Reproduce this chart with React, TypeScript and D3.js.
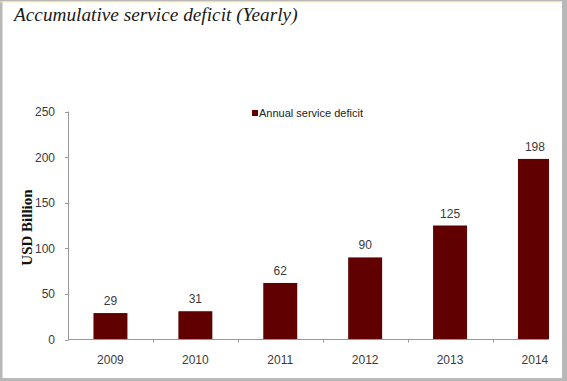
import React, { useEffect, useRef } from "react";
import * as d3 from "d3";

const categories = ["2009", "2010", "2011", "2012", "2013", "2014"];
const values = [29, 31, 62, 90, 125, 198];
const yTicks = [0, 50, 100, 150, 200, 250];
const seriesName = "Annual service deficit";
const title = "Accumulative service deficit (Yearly)";
const yLabel = "USD Billion";

export default function App() {
  const ref = useRef<SVGSVGElement>(null);
  useEffect(() => {
    const svg = d3.select(ref.current);
    svg.selectAll("*").remove();
    const W = 567, H = 381;
    const barColor = "#600000";
    const textColor = "#3a3a3a";

    svg.append("rect").attr("x", 0).attr("y", 0).attr("width", W).attr("height", H).attr("fill", "#fff");

    const x = d3.scaleBand<string>().domain(categories).range([68, 68 + 6 * 84.9]).paddingInner(0.6).paddingOuter(0.3);
    const y = d3.scaleLinear().domain([0, 250]).range([339.5, 111.5]);

    const clipId = "plotclip";
    svg.append("clipPath").attr("id", clipId).append("rect").attr("x", 0).attr("y", 0).attr("width", 549).attr("height", H);
    const g = svg.append("g").attr("clip-path", `url(#${clipId})`);

    g.selectAll("rect.bar").data(values).enter().append("rect")
      .attr("x", (_, i) => x(categories[i])!)
      .attr("width", x.bandwidth())
      .attr("y", d => y(d))
      .attr("height", d => y(0) - y(d))
      .attr("fill", barColor);

    g.selectAll("text.val").data(values).enter().append("text")
      .attr("x", (_, i) => x(categories[i])! + x.bandwidth() / 2)
      .attr("y", d => y(d) - 8)
      .attr("text-anchor", "middle")
      .attr("font-family", "Liberation Sans, Arial, sans-serif")
      .attr("font-size", 12)
      .attr("fill", textColor)
      .text(d => String(d));

    g.append("line").attr("x1", 68).attr("x2", 68 + 6 * 84.9).attr("y1", y(0)).attr("y2", y(0))
      .attr("stroke", "#999").attr("stroke-width", 1);
    for (let i = 1; i < categories.length; i++) {
      const tx = Math.round(68 + i * 84.9) + 0.5;
      g.append("line").attr("x1", tx).attr("x2", tx).attr("y1", y(0)).attr("y2", y(0) + 3)
        .attr("stroke", "#999");
    }
    g.selectAll("text.cat").data(categories).enter().append("text")
      .attr("x", d => x(d)! + x.bandwidth() / 2)
      .attr("y", 364)
      .attr("text-anchor", "middle")
      .attr("font-family", "Liberation Sans, Arial, sans-serif")
      .attr("font-size", 12)
      .attr("fill", textColor)
      .text(d => d);

    svg.append("line").attr("x1", 68.5).attr("x2", 68.5).attr("y1", y(250)).attr("y2", y(0))
      .attr("stroke", "#999");
    yTicks.forEach(t => {
      svg.append("line").attr("x1", 65).attr("x2", 68.5).attr("y1", Math.round(y(t)) + 0.5).attr("y2", Math.round(y(t)) + 0.5)
        .attr("stroke", "#999");
      svg.append("text").attr("x", 55).attr("y", y(t) + 4.5)
        .attr("text-anchor", "end")
        .attr("font-family", "Liberation Sans, Arial, sans-serif")
        .attr("font-size", 12)
        .attr("fill", textColor)
        .text(String(t));
    });

    svg.append("text")
      .attr("transform", `translate(32,${(y(0) + y(250)) / 2 + 2}) rotate(-90)`)
      .attr("text-anchor", "middle")
      .attr("font-family", "Liberation Serif, Times New Roman, serif")
      .attr("font-weight", "bold")
      .attr("font-size", 15)
      .attr("fill", "#111")
      .text(yLabel);

    svg.append("rect").attr("x", 252).attr("y", 110).attr("width", 6).attr("height", 6).attr("fill", barColor);
    svg.append("text").attr("x", 259).attr("y", 116.5)
      .attr("font-family", "Liberation Sans, Arial, sans-serif")
      .attr("font-size", 11)
      .attr("fill", "#222")
      .text(seriesName);

    svg.append("text").attr("x", 14).attr("y", 21)
      .attr("font-family", "Liberation Serif, Times New Roman, serif")
      .attr("font-style", "italic")
      .attr("font-size", 19.3)
      .attr("fill", "#1a1a1a")
      .text(title);

    svg.append("rect").attr("x", 0).attr("y", 0).attr("width", 2.5).attr("height", H).attr("fill", "#b8b8b8");
    svg.append("rect").attr("x", 0).attr("y", 0).attr("width", W).attr("height", 1.5).attr("fill", "#b8b8b8");
    svg.append("rect").attr("x", 0).attr("y", 1.5).attr("width", W).attr("height", 1).attr("fill", "#f5e9b8");
    svg.append("rect").attr("x", 562).attr("y", 0).attr("width", 5).attr("height", H).attr("fill", "#b8b8b8");
    svg.append("rect").attr("x", 0).attr("y", 378).attr("width", W).attr("height", 3).attr("fill", "#b8b8b8");
  }, []);
  return (
    <svg ref={ref} width={567} height={381} style={{ position: "absolute", left: 0, top: 0, display: "block" }} />
  );
}
